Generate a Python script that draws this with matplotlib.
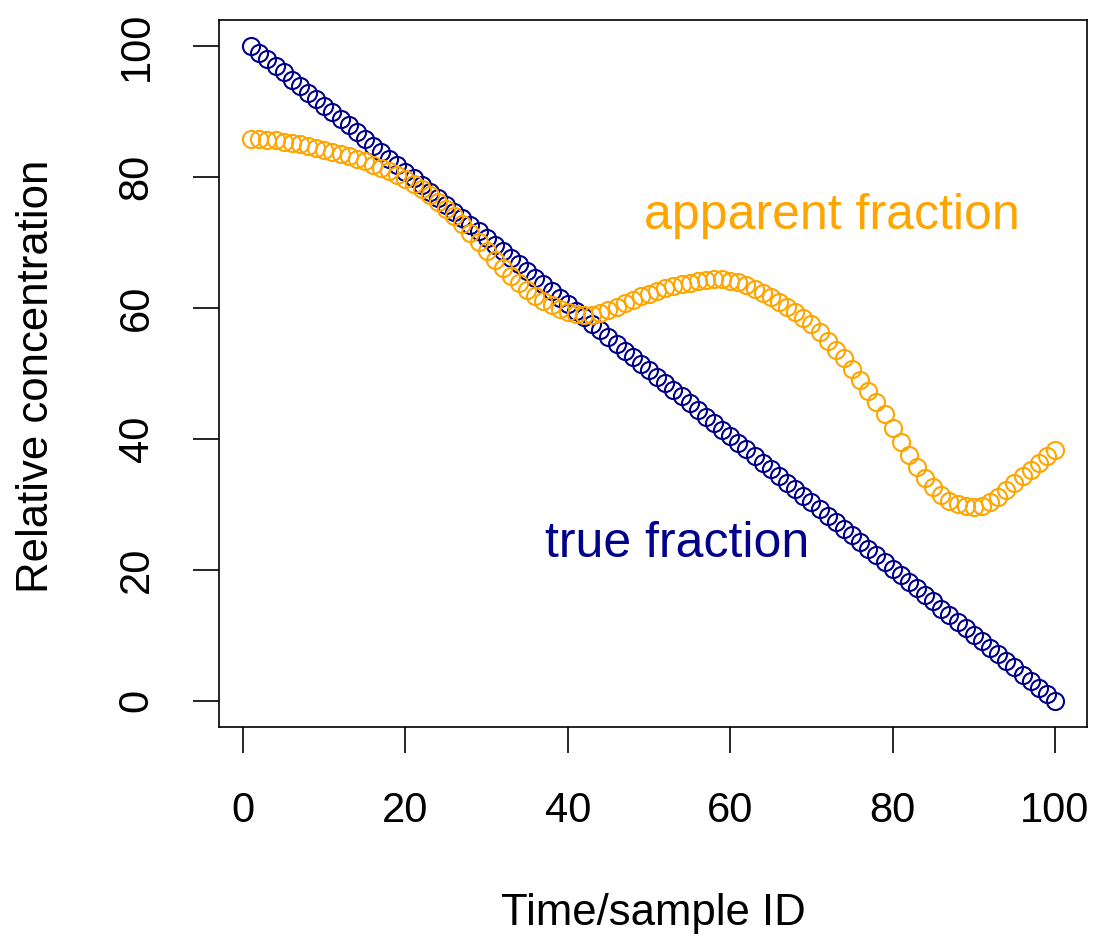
import matplotlib
matplotlib.use("Agg")
import matplotlib.pyplot as plt

plt.rcParams["font.family"] = ["Liberation Sans", "DejaVu Sans"]

# sample index 1..100
sample_id = list(range(1, 101))

# true fraction: straight decline from 100 to 0
true_fraction = [
    100.0, 99.0, 98.0, 97.0, 96.0, 94.9, 93.9, 92.9, 91.9, 90.9,
    89.9, 88.9, 87.9, 86.9, 85.9, 84.8, 83.8, 82.8, 81.8, 80.8,
    79.8, 78.8, 77.8, 76.8, 75.8, 74.7, 73.7, 72.7, 71.7, 70.7,
    69.7, 68.7, 67.7, 66.7, 65.7, 64.6, 63.6, 62.6, 61.6, 60.6,
    59.6, 58.6, 57.6, 56.6, 55.6, 54.5, 53.5, 52.5, 51.5, 50.5,
    49.5, 48.5, 47.5, 46.5, 45.5, 44.4, 43.4, 42.4, 41.4, 40.4,
    39.4, 38.4, 37.4, 36.4, 35.4, 34.3, 33.3, 32.3, 31.3, 30.3,
    29.3, 28.3, 27.3, 26.3, 25.3, 24.2, 23.2, 22.2, 21.2, 20.2,
    19.2, 18.2, 17.2, 16.2, 15.2, 14.1, 13.1, 12.1, 11.1, 10.1,
    9.1, 8.1, 7.1, 6.1, 5.1, 4.0, 3.0, 2.0, 1.0, 0.0,
]

# apparent fraction as measured
apparent_fraction = [
    85.9, 85.8, 85.7, 85.6, 85.4, 85.2, 85.0, 84.8, 84.5, 84.2,
    83.9, 83.6, 83.2, 82.8, 82.4, 81.9, 81.4, 80.9, 80.3, 79.7,
    79.0, 78.2, 77.3, 76.2, 75.1, 74.0, 72.8, 71.5, 70.1, 68.7,
    67.4, 66.1, 64.9, 63.8, 62.8, 61.9, 61.1, 60.4, 59.9, 59.4,
    59.1, 58.9, 58.9, 59.2, 59.7, 60.2, 60.8, 61.3, 61.8, 62.2,
    62.6, 63.0, 63.4, 63.7, 63.9, 64.1, 64.3, 64.4, 64.4, 64.2,
    64.0, 63.5, 62.9, 62.3, 61.7, 61.0, 60.2, 59.4, 58.5, 57.5,
    56.3, 55.0, 53.6, 52.3, 50.7, 49.0, 47.4, 45.6, 43.8, 41.6,
    39.6, 37.6, 35.7, 34.1, 32.7, 31.5, 30.6, 30.0, 29.7, 29.6,
    29.8, 30.4, 31.2, 32.2, 33.2, 34.3, 35.3, 36.4, 37.4, 38.3,
]

x_ticks = [0, 20, 40, 60, 80, 100]
y_ticks = [0, 20, 40, 60, 80, 100]

BLUE, ORANGE = "#00008B", "#FFA500"

fig = plt.figure(figsize=(11.13, 9.4), dpi=100)
ax = fig.add_axes([0.1968, 0.2266, 0.78, 0.7521])

ax.plot(sample_id, true_fraction, ls="none", marker="o", ms=12.3, mfc="none",
        mec=BLUE, mew=1.5)
ax.plot(sample_id, apparent_fraction, ls="none", marker="o", ms=12.3, mfc="none",
        mec=ORANGE, mew=1.5)

# R-style 4% padding around the data range
ax.set_xlim(1 - 0.04 * 99, 100 + 0.04 * 99)
ax.set_ylim(-4, 104)

ax.set_xticks(x_ticks)
ax.set_yticks(y_ticks)
ax.set_yticklabels([str(v) for v in y_ticks], rotation=90, va="center")
ax.tick_params(direction="out", length=19, width=1.2, labelsize=30)
ax.tick_params(axis="x", pad=27)
ax.tick_params(axis="y", pad=26)
for s in ax.spines.values():
    s.set_linewidth(1.2)

fig.text(653 / 1113, 1 - 913 / 940, "Time/sample ID", fontsize=31.5,
         ha="center", va="center")
fig.text(37 / 1113, 1 - 376 / 940, "Relative concentration", fontsize=31.5,
         ha="center", va="center", rotation=90)

ax.text(72.5, 74.0, "apparent fraction", color=ORANGE, fontsize=36,
        ha="center", va="center")
ax.text(53.4, 24.0, "true fraction", color=BLUE, fontsize=36,
        ha="center", va="center")

fig.savefig("out.png", dpi=100)
